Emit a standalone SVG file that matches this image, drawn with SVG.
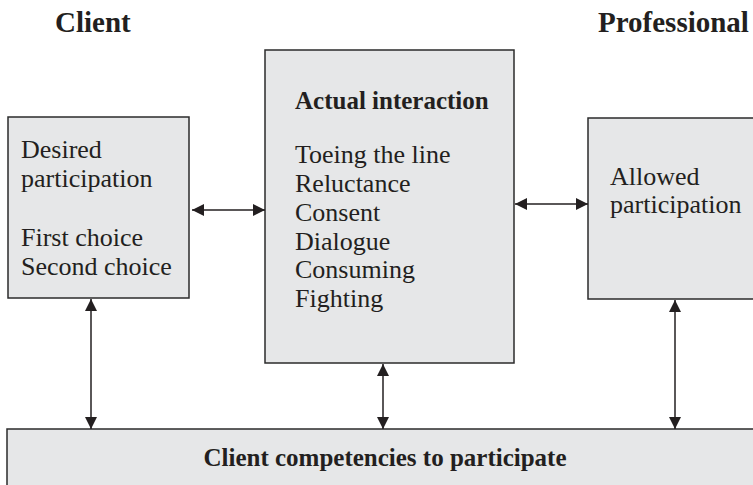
<svg xmlns="http://www.w3.org/2000/svg" width="753" height="485" viewBox="0 0 753 485">
  <style>
    .box { fill: #e6e7e8; stroke: #2b2b2b; stroke-width: 1.5; }
    .t { font-family: "Liberation Serif", "Times New Roman", serif; font-size: 26px; fill: #231f20; }
    .b { font-weight: bold; font-size: 25px; }
    .h { font-weight: bold; font-size: 29px; }
    .conn { stroke: #231f20; stroke-width: 1.5; fill: none; marker-start: url(#head); marker-end: url(#head); }
  </style>
  <defs>
    <marker id="head" viewBox="0 0 12 12" refX="12" refY="6" markerWidth="12" markerHeight="12" markerUnits="userSpaceOnUse" orient="auto-start-reverse">
      <path d="M0,0 L12,6 L0,12 Z" fill="#231f20"/>
    </marker>
  </defs>

  <text class="t h" x="55" y="32">Client</text>
  <text class="t h" x="598" y="32">Professional</text>

  <g id="desired">
    <rect class="box" x="8" y="117" width="181" height="181"/>
    <text class="t" x="21" y="158">Desired</text>
    <text class="t" x="21" y="187">participation</text>
    <text class="t" x="21" y="246">First choice</text>
    <text class="t" x="21" y="275">Second choice</text>
  </g>

  <g id="actual">
    <rect class="box" x="265" y="50" width="249" height="313"/>
    <text class="t b" x="295" y="109">Actual interaction</text>
    <text class="t" x="295" y="163">Toeing the line</text>
    <text class="t" x="295" y="192">Reluctance</text>
    <text class="t" x="295" y="221">Consent</text>
    <text class="t" x="295" y="250">Dialogue</text>
    <text class="t" x="295" y="278">Consuming</text>
    <text class="t" x="295" y="307">Fighting</text>
  </g>

  <g id="allowed">
    <rect class="box" x="588" y="118" width="175" height="181"/>
    <text class="t" x="610" y="185">Allowed</text>
    <text class="t" x="610" y="213">participation</text>
  </g>

  <g id="competencies">
    <rect class="box" x="7" y="429" width="760" height="64"/>
    <text class="t b" x="385" y="466" text-anchor="middle">Client competencies to participate</text>
  </g>

  <g id="connectors">
    <line class="conn" x1="192" y1="210" x2="265" y2="210"/>
    <line class="conn" x1="515" y1="204" x2="588" y2="204"/>
    <line class="conn" x1="91" y1="299" x2="91" y2="429"/>
    <line class="conn" x1="383" y1="364" x2="383" y2="429"/>
    <line class="conn" x1="675" y1="300" x2="675" y2="429"/>
  </g>
</svg>
